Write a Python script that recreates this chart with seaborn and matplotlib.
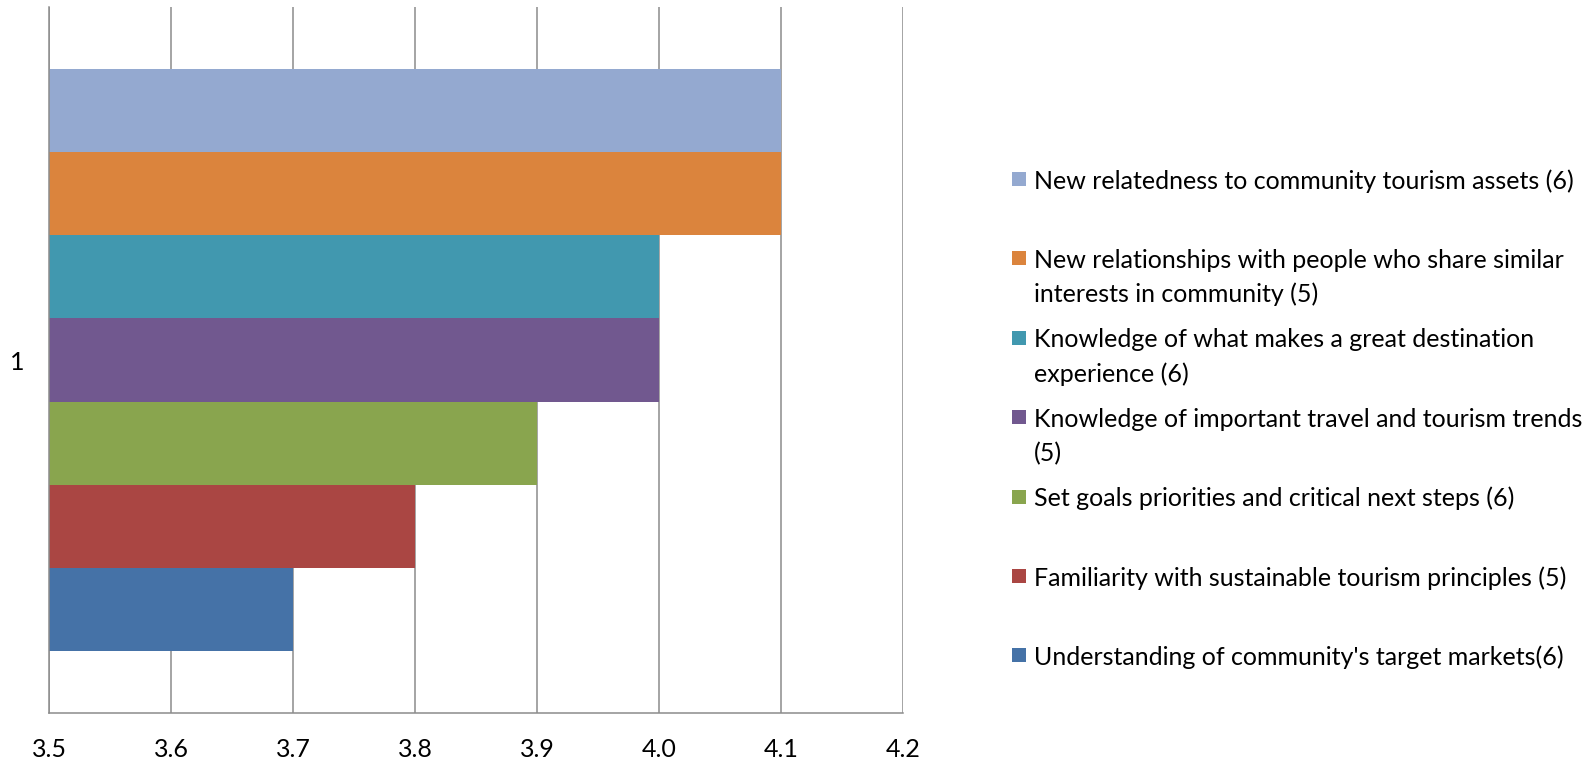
import matplotlib
matplotlib.use("Agg")
import matplotlib.pyplot as plt
from matplotlib.patches import Rectangle
import seaborn as sns
import pandas as pd

# Survey outcome means, listed top to bottom as they appear in the chart
series = [
    "New relatedness to community tourism assets (6)",
    "New relationships with people who share similar interests in community (5)",
    "Knowledge of what makes a great destination experience (6)",
    "Knowledge of important travel and tourism trends (5)",
    "Set goals priorities and critical next steps (6)",
    "Familiarity with sustainable tourism principles (5)",
    "Understanding of community's target markets(6)",
]
legend_lines = [
    ["New relatedness to community tourism assets (6)"],
    ["New relationships with people who share similar", "interests in community (5)"],
    ["Knowledge of what makes a great destination", "experience (6)"],
    ["Knowledge of important travel and tourism trends", "(5)"],
    ["Set goals priorities and critical next steps (6)"],
    ["Familiarity with sustainable tourism principles (5)"],
    ["Understanding of community's target markets(6)"],
]
values = [4.1, 4.1, 4.0, 4.0, 3.9, 3.8, 3.7]
colors = ["#94A9D0", "#DB843D", "#4198AF", "#71588F", "#89A54E", "#AA4643", "#4572A7"]
group = ["1"] * len(series)
x_ticks = [3.5, 3.6, 3.7, 3.8, 3.9, 4.0, 4.1, 4.2]
x_tick_labels = ["3.5", "3.6", "3.7", "3.8", "3.9", "4.0", "4.1", "4.2"]

df = pd.DataFrame({"group": group, "series": series, "value": values})

sns.set_style("white")
plt.rcParams["font.family"] = ["Lato", "DejaVu Sans"]

W, H = 1593, 759
FS = 18
fig = plt.figure(figsize=(W / 100, H / 100), dpi=100)
ax = fig.add_axes([49 / W, 1 - 713 / H, (903 - 49) / W, (713 - 7) / H])

grid_col = "#8C8C8C"
sns.barplot(
    data=df, x="value", y="group", hue="series", hue_order=series,
    palette=colors, orient="h", width=0.823, saturation=1,
    linewidth=0, legend=False, ax=ax, zorder=3,
)

ax.set_xlim(3.5, 4.2)
ax.set_ylim(0.5, -0.5)
ax.set_xticks(x_ticks)
ax.set_xticklabels(x_tick_labels)
ax.set_yticks([0])
ax.set_yticklabels(["1"])
ax.set_yticks([-0.5, 0.5], minor=True)
ax.set_xlabel("")
ax.set_ylabel("")

ax.grid(axis="x", color=grid_col, linewidth=1.1, zorder=0)
ax.grid(axis="y", visible=False)
ax.set_axisbelow(True)
for side in ("top", "right"):
    ax.spines[side].set_visible(False)
for side in ("left", "bottom"):
    ax.spines[side].set_color(grid_col)
    ax.spines[side].set_linewidth(1.1)
    ax.spines[side].set_zorder(4)

ax.tick_params(axis="x", which="major", direction="out", length=6, width=1.1,
               color=grid_col, labelsize=FS, pad=12, labelcolor="black")
ax.tick_params(axis="y", which="major", length=0, labelsize=FS, pad=18,
               labelcolor="black")
ax.tick_params(axis="y", which="minor", direction="out", length=6, width=1.1,
               color=grid_col)

# Legend entries drawn in figure pixel space
first_y = 179
step = 79.4
line_gap = 34
sq = 14
for i, (lines, col) in enumerate(zip(legend_lines, colors)):
    yc = first_y + i * step
    fig.patches.append(Rectangle((1012 / W, 1 - (yc + sq / 2) / H), sq / W, sq / H,
                                 transform=fig.transFigure, facecolor=col,
                                 edgecolor="none"))
    for j, line in enumerate(lines):
        fig.text(1034 / W, 1 - (yc + j * line_gap) / H, line, fontsize=FS,
                 va="center_baseline", ha="left", color="black")

fig.savefig("out.png", dpi=100, facecolor="white")
